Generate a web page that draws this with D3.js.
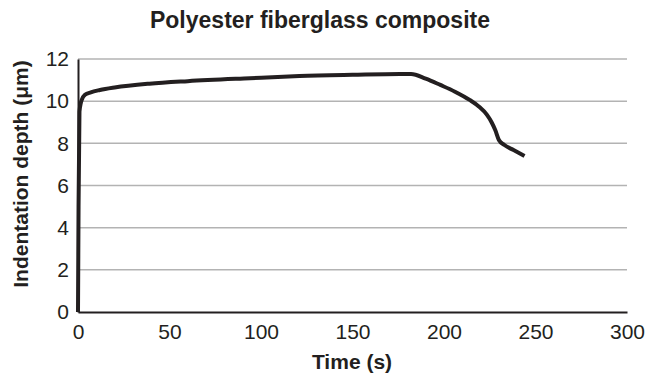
<!DOCTYPE html>
<html>
<head>
<meta charset="utf-8">
<script src="https://cdn.jsdelivr.net/npm/d3@7"></script>
<style>
  body { margin: 0; background: #fff; }
  text { font-family: "Liberation Sans", Arial, sans-serif; fill: #231f20; }
</style>
</head>
<body>
<div id="chart"></div>
<script>
// time (s) and indentation depth (µm)
const times  = [0, 0.3, 0.8, 1.5, 2, 3.8, 7, 12, 20, 39, 60, 94, 121, 150, 176, 182, 190, 198, 206, 214, 219, 223.5, 226, 228, 230, 233, 238, 244];
const depths = [0, 5, 9.5, 9.9, 10.05, 10.3, 10.42, 10.53, 10.65, 10.83, 10.95, 11.09, 11.19, 11.25, 11.29, 11.29, 11.07, 10.77, 10.45, 10.06, 9.75, 9.35, 9.0, 8.63, 8.16, 7.92, 7.68, 7.4];
const xTicks = [0, 50, 100, 150, 200, 250, 300];
const yTicks = [0, 2, 4, 6, 8, 10, 12];

const W = 646, H = 376;
const margin = { top: 59, right: 19, bottom: 64, left: 78 };
const width = W - margin.left - margin.right;
const height = H - margin.top - margin.bottom;

const svg = d3.select('#chart').append('svg')
  .attr('width', W)
  .attr('height', H);

const x = d3.scaleLinear().domain([0, 300]).range([0, width]);
const y = d3.scaleLinear().domain([0, 12]).range([height, 0]);

const g = svg.append('g')
  .attr('transform', `translate(${margin.left}, ${margin.top})`);

// gridlines
g.selectAll('.grid')
  .data(yTicks.filter(d => d > 0))
  .enter().append('line')
  .attr('class', 'grid')
  .attr('x1', 0).attr('x2', width)
  .attr('y1', d => y(d)).attr('y2', d => y(d))
  .attr('stroke', '#b3b3b3')
  .attr('stroke-width', 1.5);

// axes
const xAxis = g.append('g')
  .attr('transform', `translate(0, ${height})`)
  .call(d3.axisBottom(x).tickValues(xTicks).tickSize(0).tickPadding(12));
const yAxis = g.append('g')
  .call(d3.axisLeft(y).tickValues(yTicks).tickSize(0).tickPadding(9));

[xAxis, yAxis].forEach(a => {
  a.attr('font-size', 21);
  a.select('.domain').attr('stroke', '#231f20').attr('stroke-width', 2);
  a.selectAll('text').attr('fill', '#231f20')
    .style('font-family', '"Liberation Sans", Arial, sans-serif');
});

// curve
const line = d3.line()
  .x((d, i) => x(times[i]))
  .y(d => y(d))
  .curve(d3.curveMonotoneX);

g.append('path')
  .datum(depths)
  .attr('fill', 'none')
  .attr('stroke', '#231f20')
  .attr('stroke-width', 4)
  .attr('stroke-linejoin', 'round')
  .attr('d', line);

// titles
svg.append('text')
  .attr('x', 320).attr('y', 28)
  .attr('text-anchor', 'middle')
  .style('font-size', '23px').style('font-weight', 'bold')
  .text('Polyester fiberglass composite');

svg.append('text')
  .attr('x', 352).attr('y', 369)
  .attr('text-anchor', 'middle')
  .style('font-size', '21px').style('font-weight', 'bold')
  .text('Time (s)');

svg.append('text')
  .attr('transform', 'translate(28, 174) rotate(-90)')
  .attr('text-anchor', 'middle')
  .style('font-size', '21px').style('font-weight', 'bold')
  .text('Indentation depth (μm)');
</script>
</body>
</html>
